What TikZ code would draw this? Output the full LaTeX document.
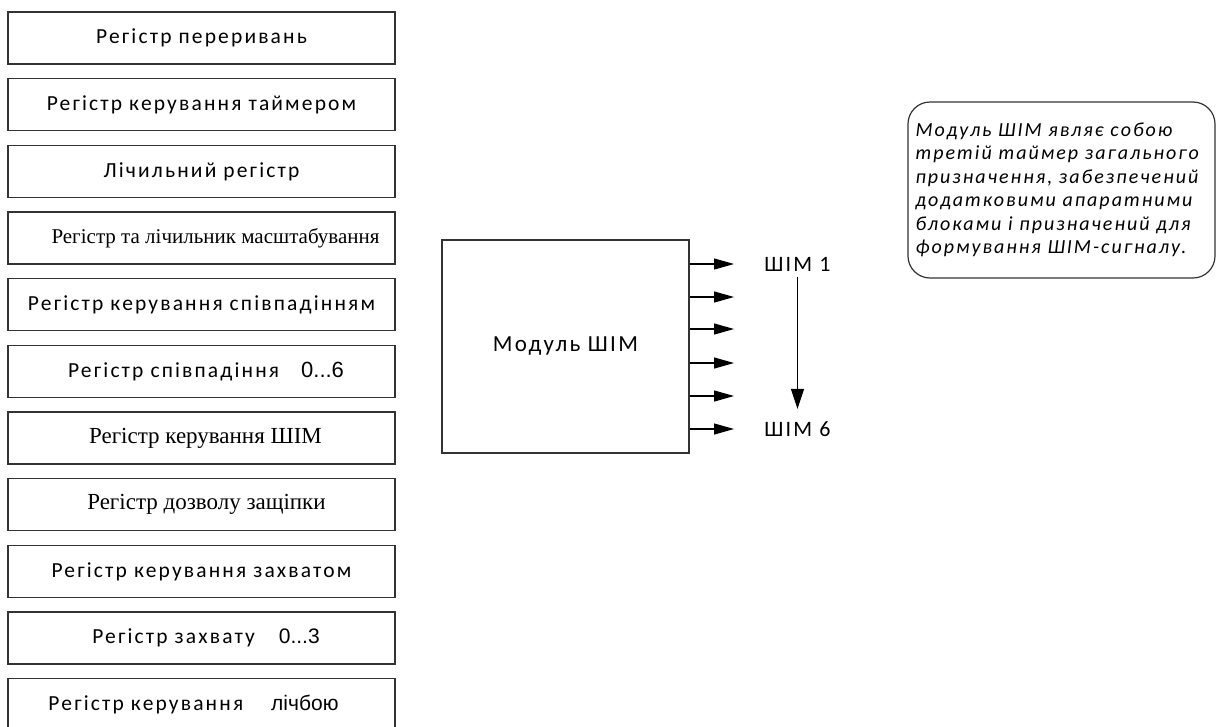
\documentclass[tikz,border=0pt]{standalone}
\usepackage{fontspec}
\usetikzlibrary{arrows.meta,positioning}
\newfontfamily\calfont[LetterSpace=10]{Carlito}
\newfontfamily\serfont{Liberation Serif}
\newfontfamily\arfont{Liberation Sans}
\tikzset{
	reg/.style={draw=black!80, line width=1.2pt, minimum width=387pt, minimum height=52pt, inner sep=0pt, font=\fontsize{21.5}{24}\selectfont},
	pwmout/.style={-{Triangle[length=20pt,width=11pt]}, line width=1.2pt},
	lbl/.style={font=\calfont\fontsize{22}{24}\selectfont, inner sep=2pt},
}
\begin{document}
\begin{tikzpicture}[x=1pt, y=-1pt, line width=1.2pt]
		\useasboundingbox (0,0) rectangle (1218,726);
		\clip (0,0) rectangle (1218,726);
		% Register column
		\foreach \i/\txt in {1/{\calfont Регістр переривань},
			2/{\calfont Регістр керування таймером},
			3/{\calfont Лічильний регістр},
			4/{\hspace*{28pt}\serfont\fontsize{21}{24}\selectfont Регістр та лічильник масштабування},
			5/{\calfont Регістр керування співпадінням},
			6/\hspace*{9pt}{\calfont Регістр співпадіння}\hspace{22pt}{\arfont\fontsize{22}{24}\selectfont 0...6},
			7/{\hspace*{8pt}\serfont\fontsize{23}{24}\selectfont Регістр керування ШІМ},
			8/{\hspace*{10pt}\serfont\fontsize{23}{24}\selectfont Регістр дозволу защіпки},
			9/{\calfont Регістр керування захватом},
			10/\hspace*{9pt}{\calfont Регістр захвату}\hspace{24pt}{\arfont\fontsize{21}{24}\selectfont 0...3},
			11/{\calfont Регістр керування}\hspace{28pt}{\arfont\fontsize{21}{24}\selectfont лічбою}\hspace*{16pt}} {
			\node[reg] (reg\i) at (201.5,{38+66.67*(\i-1)}) {\txt};
		}
		% PWM module
		\node[draw=black!80, minimum width=247pt, minimum height=213pt, inner sep=0pt,
			font=\calfont\fontsize{23}{24}\selectfont] (mod) at (565.5,346.5) {Модуль ШІМ};
		\foreach \i/\y in {1/264, 2/297, 3/329, 4/363, 5/396, 6/429} {
			\coordinate (out\i) at (734,\y);
			\draw[pwmout] (mod.east |- out\i) -- (out\i);
		}
		\node[lbl] (pwm1) at (797.5,264) {ШІМ 1};
		\node[lbl] (pwm6) at (797.5,429) {ШІМ 6};
		\draw[-{Triangle[length=20pt,width=13pt]}, shorten <=3pt, shorten >=10pt] (pwm1.south) -- (pwm6.north);
		% Note
		\node[draw=black!80, rounded corners=22pt, minimum width=307pt, minimum height=176pt,
			text width=292pt, align=left, inner sep=0pt,
			font=\calfont\itshape\fontsize{20}{23.5}\selectfont] (note) at (1061.5,190)
			{Модуль ШІМ являє собою\\
			третій таймер загального\\
			призначення, забезпечений\\
			додатковими апаратними\\
			блоками і призначений для\\
			формування ШІМ-сигналу.};
	\end{tikzpicture}
\end{document}
